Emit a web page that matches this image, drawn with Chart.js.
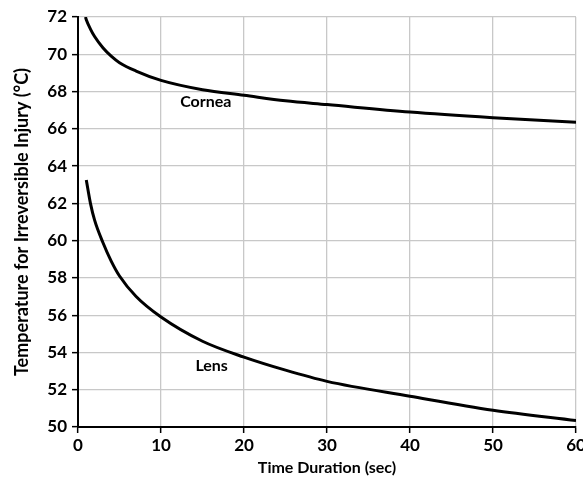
<!DOCTYPE html>
<html>
<head>
<meta charset="utf-8">
<script src="https://cdn.jsdelivr.net/npm/chart.js@4"></script>
<style>
  html, body { margin: 0; padding: 0; background: #fff; }
  #wrap { width: 583px; height: 477px; }
</style>
</head>
<body>
<div id="wrap"><canvas id="injuryChart" width="583" height="477"></canvas></div>
<script>
// time (sec) and temperature (°C)
const corneaTime = [0.9, 1, 1.5, 2, 3, 4, 5, 7, 10, 15, 20, 25, 30, 40, 50, 60];
const corneaTemp = [72.0, 71.85, 71.35, 70.95, 70.35, 69.9, 69.55, 69.1, 68.6, 68.1, 67.8, 67.5, 67.3, 66.9, 66.6, 66.35];
const lensTime = [1, 1.5, 2, 3, 4, 5, 7, 10, 15, 20, 25, 30, 40, 50, 60];
const lensTemp = [63.25, 62.0, 61.1, 59.9, 58.9, 58.1, 57.0, 55.9, 54.6, 53.75, 53.05, 52.45, 51.65, 50.9, 50.35];
const xTicks = [0, 10, 20, 30, 40, 50, 60];
const yTicks = [50, 52, 54, 56, 58, 60, 62, 64, 66, 68, 70, 72];
const curveLabels = [
  { text: "Cornea", x: 15.4, y: 67.45 },
  { text: "Lens", x: 16.1, y: 53.3 },
];

const FONT = "Lato, 'Open Sans', sans-serif";

const toPoints = (xs, ys) => xs.map((x, i) => ({ x, y: ys[i] }));

const labelPlugin = {
  id: "curveLabels",
  afterDatasetsDraw(chart) {
    const { ctx, scales } = chart;
    ctx.save();
    ctx.font = "bold 16px " + FONT;
    ctx.fillStyle = "#000";
    ctx.textAlign = "center";
    ctx.textBaseline = "middle";
    curveLabels.forEach((l) => {
      ctx.fillText(l.text, scales.x.getPixelForValue(l.x), scales.y.getPixelForValue(l.y));
    });
    ctx.restore();
  },
};

new Chart(document.getElementById("injuryChart"), {
  type: "line",
  data: {
    datasets: [
      {
        label: "Cornea",
        data: toPoints(corneaTime, corneaTemp),
        borderColor: "#000",
        borderWidth: 3,
        pointRadius: 0,
        cubicInterpolationMode: "monotone",
        fill: false,
      },
      {
        label: "Lens",
        data: toPoints(lensTime, lensTemp),
        borderColor: "#000",
        borderWidth: 3,
        pointRadius: 0,
        cubicInterpolationMode: "monotone",
        fill: false,
      },
    ],
  },
  options: {
    responsive: false,
    animation: false,
    layout: { padding: { top: 17, right: 7, left: 0, bottom: 0 } },
    plugins: {
      legend: { display: false },
      tooltip: { enabled: false },
    },
    scales: {
      x: {
        type: "linear",
        min: 0,
        max: 60,
        afterFit: (s) => { s.height = 50; s.paddingRight = 0; },
        afterBuildTicks: (s) => { s.ticks = xTicks.map((v) => ({ value: v })); },
        grid: { color: "#c8c8c8", lineWidth: 1.3, tickColor: "#000", tickLength: 6, tickWidth: 1.5 },
        border: { color: "#000", width: 2 },
        ticks: { color: "#000", font: { family: FONT, size: 17, weight: "bold" }, padding: 2, maxRotation: 0 },
        title: {
          display: true,
          text: "Time Duration (sec)",
          color: "#000",
          font: { family: FONT, size: 16, weight: "bold" },
          padding: { top: -4, bottom: 0 },
        },
      },
      y: {
        min: 50,
        max: 72,
        afterFit: (s) => { s.width = 78; },
        afterBuildTicks: (s) => { s.ticks = yTicks.map((v) => ({ value: v })); },
        grid: { color: "#c8c8c8", lineWidth: 1.3, tickColor: "#000", tickLength: 6, tickWidth: 1.5 },
        border: { color: "#000", width: 2 },
        ticks: { color: "#000", font: { family: FONT, size: 17, weight: "bold" }, padding: 5 },
        title: {
          display: true,
          text: "Temperature for Irreversible Injury (°C)",
          color: "#000",
          font: { family: FONT, size: 18, weight: "bold" },
          padding: { top: 11, bottom: 4 },
        },
      },
    },
  },
  plugins: [labelPlugin],
});
</script>
</body>
</html>
